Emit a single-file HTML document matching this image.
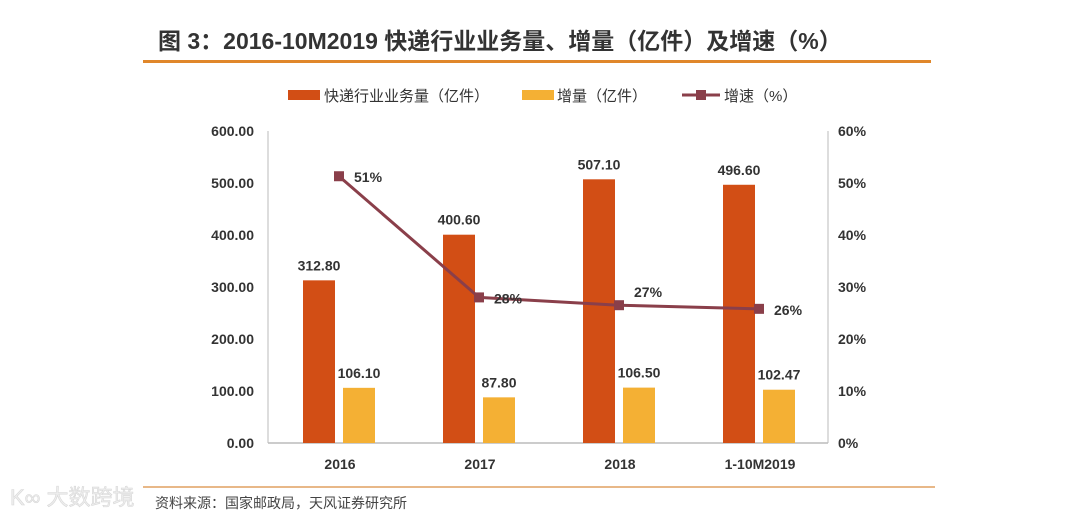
<!DOCTYPE html>
<html><head><meta charset="utf-8"><style>
html,body{margin:0;padding:0;background:#fff;width:1080px;height:517px;overflow:hidden}
svg{display:block}
text{font-family:"Liberation Sans","Noto Sans CJK SC",sans-serif}
</style></head><body>
<svg id="chart" width="1080" height="517">
<text x="158" y="49" font-size="23" font-weight="bold" fill="#333">图 3：2016-10M2019 快递行业业务量、增量（亿件）及增速（%）</text>
<rect x="143" y="60" width="788" height="3" fill="#e0872a"/>
<g>
<rect x="288" y="90" width="32" height="10" fill="#d24e15"/>
<text x="324" y="101" font-size="15" fill="#333">快递行业业务量（亿件）</text>
<rect x="522" y="90" width="32" height="10" fill="#f4b034"/>
<text x="557" y="101" font-size="15" fill="#333">增量（亿件）</text>
<line x1="682" y1="95" x2="720" y2="95" stroke="#8a3f4a" stroke-width="3"/>
<rect x="696" y="90" width="10" height="10" fill="#8a3f4a"/>
<text x="724" y="101" font-size="15" fill="#333">增速（%）</text>
</g>
<line x1="143" y1="487" x2="935" y2="487" stroke="#e0a060" stroke-width="1.5"/>
<text x="155" y="508" font-size="14" fill="#444">资料来源：国家邮政局，天风证券研究所</text>
<text x="10" y="505" font-size="22" fill="#eee" stroke="#d8d8d8" stroke-width="0.6">K∞ 大数跨境</text>
<g id="plot"></g>
</svg>
<script>
const categories=["2016","2017","2018","1-10M2019"];
const volume=[312.8,400.6,507.1,496.6];
const volumeLabels=["312.80","400.60","507.10","496.60"];
const increase=[106.1,87.8,106.5,102.47];
const increaseLabels=["106.10","87.80","106.50","102.47"];
const growth=[51.3,28,26.5,25.8];
const growthLabels=["51%","28%","27%","26%"];
const leftTicks=[0,100,200,300,400,500,600];
const leftTickLabels=["0.00","100.00","200.00","300.00","400.00","500.00","600.00"];
const rightTicks=[0,10,20,30,40,50,60];
const rightTickLabels=["0%","10%","20%","30%","40%","50%","60%"];

const NS="http://www.w3.org/2000/svg";
const g=document.getElementById('plot');
const X0=268,X1=828,Y0=443,Y1=131;
const yL=v=>Y0-(v/600)*(Y0-Y1);
const yR=v=>Y0-(v/60)*(Y0-Y1);
const step=(X1-X0)/categories.length;
const xC=i=>X0+step*(i+0.5)+2;
const growthLabelDy=[6,6,-8,6];
function mk(t,a,txt){const e=document.createElementNS(NS,t);for(const k in a)e.setAttribute(k,a[k]);if(txt!=null)e.textContent=txt;g.appendChild(e);return e;}

let e=mk('line',{x1:X0,y1:Y0,x2:X1,y2:Y0,stroke:'#bbb','stroke-width':1.5});


e=mk('line',{x1:X0,y1:Y1,x2:X0,y2:Y0,stroke:'#bbb','stroke-width':1});


e=mk('line',{x1:X1,y1:Y1,x2:X1,y2:Y0,stroke:'#bbb','stroke-width':1});



leftTicks.forEach((v,i)=>{
 const t=mk('text',{x:254,y:yL(v)+5,'font-size':14,'font-weight':'bold',fill:'#333','text-anchor':'end'},leftTickLabels[i]);
 
 
});
rightTicks.forEach((v,i)=>{
 const t=mk('text',{x:838,y:yR(v)+5,'font-size':14,'font-weight':'bold',fill:'#333'},rightTickLabels[i]);
 
 
});
categories.forEach((c,i)=>{
 const t=mk('text',{x:xC(i),y:469,'font-size':14,'font-weight':'bold',fill:'#333','text-anchor':'middle'},c);
 
 
 const bw=32;
 const b1=mk('rect',{x:xC(i)-37,y:yL(volume[i]),width:bw,height:Y0-yL(volume[i]),fill:'#d24e15'});
 
 
 const l1=mk('text',{x:xC(i)-21,y:yL(volume[i])-10,'font-size':14,'font-weight':'bold',fill:'#333','text-anchor':'middle'},volumeLabels[i]);
 
 
 const b2=mk('rect',{x:xC(i)+3,y:yL(increase[i]),width:bw,height:Y0-yL(increase[i]),fill:'#f4b034'});
 
 
 const l2=mk('text',{x:xC(i)+19,y:yL(increase[i])-10,'font-size':14,'font-weight':'bold',fill:'#333','text-anchor':'middle'},increaseLabels[i]);
 
 
});
const pts=growth.map((v,i)=>(xC(i)-1)+','+yR(v)).join(' ');
const pl=mk('polyline',{points:pts,fill:'none',stroke:'#8a3f4a','stroke-width':3});


growth.forEach((v,i)=>{
 const m=mk('rect',{x:xC(i)-6,y:yR(v)-5,width:10,height:10,fill:'#8a3f4a'});
 
 
 const t=mk('text',{x:xC(i)+14,y:yR(v)+growthLabelDy[i],'font-size':14,'font-weight':'bold',fill:'#333'},growthLabels[i]);
 
 
});
</script>
</body></html>
